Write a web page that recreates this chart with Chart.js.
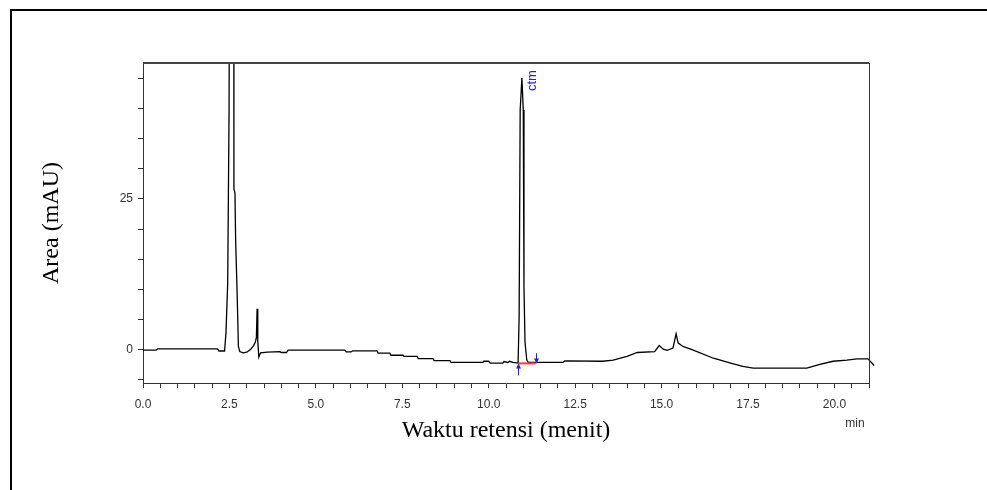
<!DOCTYPE html>
<html>
<head>
<meta charset="utf-8">
<script src="https://cdn.jsdelivr.net/npm/chart.js@4"></script>
<style>
  body { margin: 0; background: #fff; }
  canvas { display: block; }
</style>
</head>
<body>
<canvas id="chromatogram" width="987" height="490"></canvas>
<script>
// Waktu retensi (menit)
const retentionTime = [
    0, 0.38, 0.42, 2.15, 2.2, 2.36, 2.4, 2.45, 2.49, 2.52, 2.62, 2.63, 2.66, 2.68, 2.72, 2.76,
    2.8, 2.9, 3.0, 3.1, 3.2, 3.25, 3.28, 3.3, 3.32, 3.35, 3.4, 3.6, 3.96, 4.0, 4.15, 4.2,
    5.84, 5.88, 6.02, 6.06, 6.77, 6.8, 7.14, 7.17, 7.52, 7.55, 7.93, 7.96, 8.39, 8.42,
    8.88, 8.91, 9.83, 9.86, 10.0, 10.04, 10.41, 10.44, 10.55, 10.6, 10.7, 10.85,
    10.88, 10.91, 10.96, 11.0, 11.02, 11.05, 11.1, 11.14, 12.15, 12.2, 13.3, 13.6,
    14.0, 14.3, 14.8, 14.93, 15.05, 15.16, 15.33, 15.42, 15.48, 15.62, 15.9, 16.5,
    17.0, 17.35, 17.65, 19.2, 19.58, 19.96, 20.36, 20.65, 20.97, 21.15
];
// Sinyal detektor (mAU)
const signal = [
    -0.05, -0.05, 0.15, 0.15, -0.2, -0.2, 2.8, 11, 40, 120, 120, 26.6, 26, 18, 10, 0.5,
    -0.3, -0.5, -0.4, 0, 0.7, 1.3, 2, 6.8, 1.5, -1.2, -0.5, -0.4, -0.3, -0.45, -0.45, -0.05,
    -0.05, -0.35, -0.35, -0.17, -0.17, -0.55, -0.55, -0.9, -0.9, -1.1, -1.1, -1.45, -1.45, -1.8,
    -1.8, -2.1, -2.1, -1.9, -1.9, -2.2, -2.2, -1.95, -2.1, -1.9, -2.1, -2.2,
    5.5, 39.7, 45, 39.7, 10.4, 1.2, -1.6, -2.1, -2.1, -1.85, -1.9, -1.7,
    -1.1, -0.45, -0.3, 0.7, 0.1, -0.1, 0.3, 2.65, 1.1, 0.55, 0, -1.4,
    -2.2, -2.75, -3.05, -3.05, -2.4, -1.9, -1.7, -1.5, -1.5, -2.6
];

// integrasi puncak ctm
const peakName = 'ctm';
const peakApex = [10.96, 45];
const peakStart = 10.85;
const peakEnd = 11.36;
const peakBaseline = [-2.25, -2.25];

const xTickLabels = ['0.0', '2.5', '5.0', '7.5', '10.0', '12.5', '15.0', '17.5', '20.0'];
const yTickLabels = ['0', '25'];

const tickFont = { family: '"Liberation Sans", Arial, sans-serif', size: 12 };
const titleFont = { family: '"Liberation Serif", "Times New Roman", serif', size: 24 };

const decorations = {
    id: 'decorations',
    beforeDraw(chart) {
        const ctx = chart.ctx;
        ctx.save();
        ctx.fillStyle = '#fff';
        ctx.fillRect(0, 0, chart.width, chart.height);
        // bingkai luar
        ctx.strokeStyle = '#000';
        ctx.lineWidth = 2;
        ctx.beginPath();
        ctx.moveTo(11, chart.height);
        ctx.lineTo(11, 10);
        ctx.lineTo(chart.width, 10);
        ctx.stroke();
        ctx.restore();
    },
    afterDraw(chart) {
        const ctx = chart.ctx;
        const a = chart.chartArea;
        const x = chart.scales.x;
        const y = chart.scales.y;
        ctx.save();
        // sisi atas dan kanan plot
        ctx.strokeStyle = '#444';
        ctx.lineWidth = 2;
        ctx.beginPath();
        ctx.moveTo(a.left, a.top);
        ctx.lineTo(a.right, a.top);
        ctx.stroke();
        ctx.lineWidth = 1;
        ctx.strokeStyle = '#333';
        ctx.beginPath();
        ctx.moveTo(a.right + 0.5, a.top);
        ctx.lineTo(a.right + 0.5, a.bottom);
        ctx.stroke();

        // label puncak
        ctx.fillStyle = '#1a1aff';
        ctx.font = '13px "Liberation Sans", Arial, sans-serif';
        ctx.translate(x.getPixelForValue(peakApex[0]) + 11, y.getPixelForValue(peakApex[1]) + 13);
        ctx.rotate(-Math.PI / 2);
        ctx.textAlign = 'left';
        ctx.textBaseline = 'middle';
        ctx.fillText(peakName, 0, 0);
        ctx.setTransform(1, 0, 0, 1, 0, 0);

        // panah awal dan akhir integrasi
        ctx.strokeStyle = '#1a1aff';
        ctx.fillStyle = '#1a1aff';
        ctx.lineWidth = 1;
        const xs = Math.round(x.getPixelForValue(peakStart)) + 0.5;
        const yb = y.getPixelForValue(peakBaseline[0]);
        ctx.beginPath();
        ctx.moveTo(xs, yb + 12);
        ctx.lineTo(xs, yb + 2);
        ctx.stroke();
        ctx.beginPath();
        ctx.moveTo(xs - 2.5, yb + 5);
        ctx.lineTo(xs, yb);
        ctx.lineTo(xs + 2.5, yb + 5);
        ctx.fill();
        const xe = Math.round(x.getPixelForValue(peakEnd)) + 0.5;
        ctx.beginPath();
        ctx.moveTo(xe, yb - 10);
        ctx.lineTo(xe, yb - 2);
        ctx.stroke();
        ctx.beginPath();
        ctx.moveTo(xe - 2.5, yb - 5);
        ctx.lineTo(xe, yb);
        ctx.lineTo(xe + 2.5, yb - 5);
        ctx.fill();

        // satuan sumbu x
        ctx.fillStyle = '#333';
        ctx.font = '12px "Liberation Sans", Arial, sans-serif';
        ctx.textAlign = 'center';
        ctx.textBaseline = 'middle';
        ctx.fillText('min', a.right - 14, a.bottom + 41);
        ctx.restore();
    }
};

const ctx = document.getElementById('chromatogram').getContext('2d');
new Chart(ctx, {
    type: 'scatter',
    data: {
        datasets: [{
            label: 'baseline',
            data: [{ x: peakStart, y: peakBaseline[0] }, { x: peakEnd, y: peakBaseline[1] }],
            showLine: true,
            borderColor: '#ff3a3a',
            borderWidth: 2,
            pointRadius: 0,
            order: 0
        }, {
            label: 'Area (mAU)',
            data: retentionTime.map((t, i) => ({ x: t, y: signal[i] })),
            showLine: true,
            borderColor: '#000',
            borderWidth: 1.3,
            pointRadius: 0,
            tension: 0,
            clip: { left: 0, top: 0, right: 6, bottom: 0 },
            order: 1
        }]
    },
    options: {
        responsive: false,
        animation: false,
        events: [],
        layout: { padding: { left: 0, top: 63, right: 118, bottom: 0 } },
        plugins: {
            legend: { display: false },
            tooltip: { enabled: false }
        },
        scales: {
            x: {
                type: 'linear',
                min: 0,
                max: 21,
                afterFit(scale) { scale.height = 107; },
                border: { display: true, color: '#333', width: 1 },
                grid: { drawOnChartArea: false, tickLength: 5, color: '#333' },
                ticks: {
                    stepSize: 0.5,
                    includeBounds: false,
                    autoSkip: false,
                    maxRotation: 0,
                    padding: 9,
                    color: '#333',
                    font: tickFont,
                    callback(value) {
                        const label = value.toFixed(1);
                        return xTickLabels.includes(label) ? label : '';
                    }
                },
                title: {
                    display: true,
                    text: 'Waktu retensi (menit)',
                    color: '#000',
                    font: titleFont,
                    padding: { top: 0, bottom: 45 }
                }
            },
            y: {
                type: 'linear',
                min: -5.5,
                max: 47.5,
                afterFit(scale) { scale.width = 143; },
                border: { display: true, color: '#333', width: 1 },
                grid: { drawOnChartArea: false, tickLength: 5, color: '#333' },
                ticks: {
                    stepSize: 5,
                    includeBounds: false,
                    autoSkip: false,
                    padding: 5,
                    color: '#333',
                    font: tickFont,
                    callback(value) {
                        const label = String(Math.round(value));
                        return yTickLabels.includes(label) ? label : '';
                    }
                },
                title: {
                    display: true,
                    text: 'Area (mAU)',
                    color: '#000',
                    font: titleFont,
                    padding: { top: 37, bottom: 0 }
                }
            }
        }
    },
    plugins: [decorations]
});
</script>
</body>
</html>
